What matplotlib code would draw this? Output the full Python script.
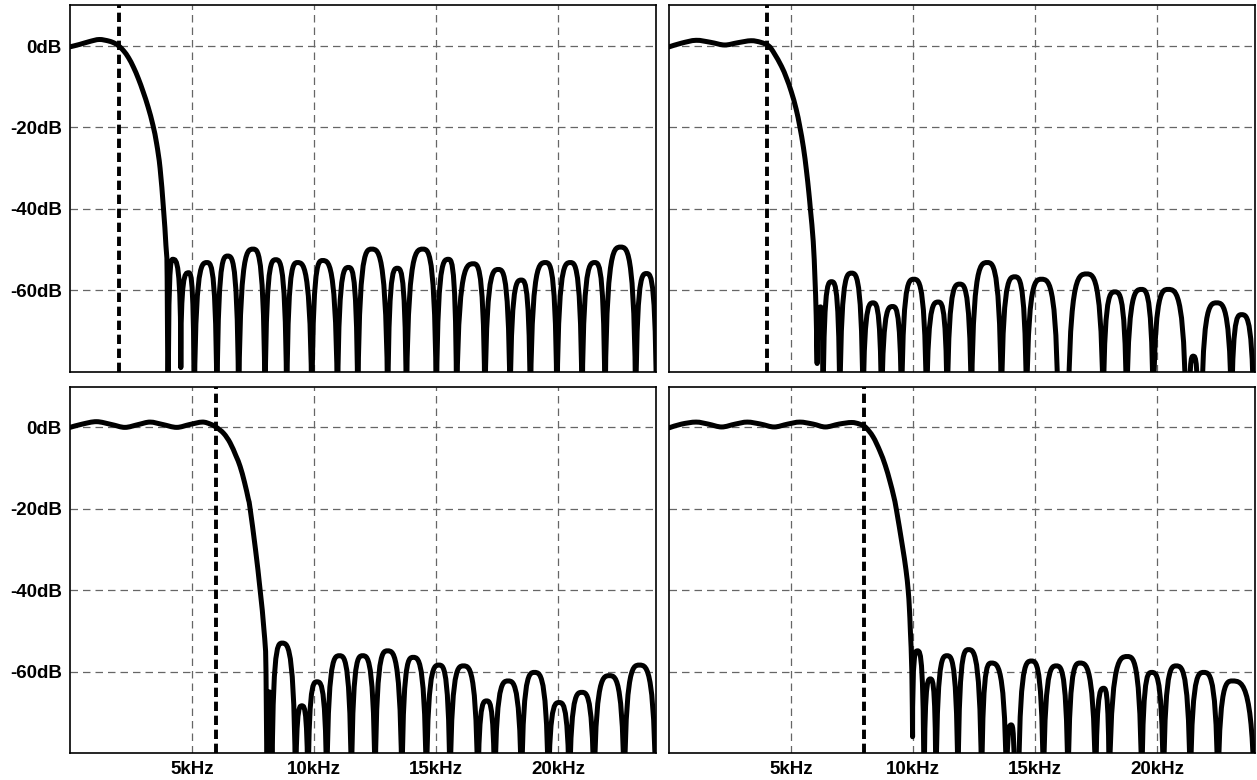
import matplotlib
matplotlib.use("Agg")
import matplotlib.pyplot as plt
from matplotlib.path import Path
from matplotlib.patches import PathPatch

plt.rcParams['font.family'] = ['Liberation Sans', 'DejaVu Sans']

# cutoff of each filter in kHz (dashed marker), panel order TL, TR, BL, BR
cutoffs = [2, 4, 6, 8]

# ---- top left: fc = 2 kHz ----
tl_pass_f = [0, 0.4, 0.8, 1.2, 1.6, 1.84, 2.0, 2.2, 2.4, 2.6, 2.8, 3.0, 3.2, 3.4,
             3.55, 3.69, 3.83, 3.93, 3.98]
tl_pass_db = [-0.2, 0.4, 1.1, 1.6, 1.2, 0.65, 0.0, -1.2, -2.9, -5.2, -8.0, -11.3, -15.0, -19.5,
              -24, -30, -40, -49, -57]
tl_null_f = [4.02, 4.54, 5.09, 6.02, 6.91, 7.99, 8.88, 9.91, 10.96, 11.79, 13.02, 13.78,
             15.01, 15.84, 17.0, 18.03, 18.86, 19.95, 20.98, 21.92, 23.18, 24.03]
tl_null_db = [-100, -79, -100, -100, -100, -100, -100, -100, -100, -100, -100, -100,
              -100, -100, -100, -100, -100, -100, -100, -100, -100, -100]
tl_peak_f = [4.21, 4.86, 5.61, 6.46, 7.50, 8.43, 9.32, 10.35, 11.41, 12.36, 13.41, 14.46,
             15.50, 16.53, 17.55, 18.49, 19.48, 20.5, 21.5, 22.56, 23.62]
tl_peak_db = [-52.4, -55.7, -53.2, -51.6, -49.9, -52.5, -53.2, -52.7, -54.4, -49.9, -54.6,
              -49.9, -52.4, -53.5, -54.9, -57.5, -53.2, -53.2, -53.2, -49.4, -55.9]

# ---- top right: fc = 4 kHz ----
tr_pass_f = [0, 0.5, 1.1, 1.7, 2.27, 2.8, 3.35, 3.75, 4.08, 4.3, 4.6, 4.8, 5.0, 5.2,
             5.35, 5.5, 5.62, 5.72, 5.79, 5.9, 5.97, 6.02]
tr_pass_db = [-0.2, 0.7, 1.4, 0.9, 0.25, 0.8, 1.3, 0.9, 0.0, -1.8, -5.0, -7.8, -11.2, -15.5,
              -19.8, -25, -30.5, -36, -40.5, -48, -57, -66]
tr_null_f = [6.06, 6.3, 6.99, 7.94, 8.7, 9.52, 10.54, 11.39, 12.38, 13.61, 14.64, 15.93,
             16.35, 17.78, 18.74, 19.83, 21.17, 21.3, 21.67, 21.81, 23.04, 23.95]
tr_null_db = [-78, -100, -100, -100, -100, -100, -100, -100, -100, -100, -100, -100,
              -100, -100, -100, -100, -100, -100, -100, -100, -100, -100]
tr_peak_f = [6.2, 6.65, 7.47, 8.35, 9.15, 10.02, 11.02, 11.9, 13.03, 14.16, 15.25, 16.14,
             17.1, 18.26, 19.35, 20.44, 21.23, 21.47, 21.74, 22.43, 23.45]
tr_peak_db = [-64.1, -57.9, -55.8, -63.1, -64.0, -57.3, -62.9, -58.5, -53.2, -56.7, -57.3,
              -90, -56.0, -60.4, -59.8, -59.8, -90, -76.2, -90, -63.1, -66.0]

# ---- bottom left: fc = 6 kHz ----
bl_pass_f = [0, 0.5, 1.09, 1.7, 2.25, 2.8, 3.28, 3.8, 4.37, 4.9, 5.42, 5.75, 6.0, 6.3,
             6.56, 6.8, 6.97, 7.15, 7.31, 7.38, 7.6, 7.79, 7.95, 8.03]
bl_pass_db = [0.0, 0.8, 1.4, 0.7, 0.0, 0.7, 1.3, 0.7, 0.0, 0.7, 1.3, 0.8, 0.0, -1.5,
              -3.8, -7.0, -9.6, -13.5, -17.7, -20, -30, -40, -50, -60]
bl_null_f = [8.08, 8.27, 9.24, 9.75, 10.52, 11.53, 12.5, 13.6, 14.6, 15.57, 16.71, 17.4,
             18.5, 19.6, 20.46, 21.47, 22.71, 24.0]
bl_null_db = [-100, -100, -100, -100, -100, -100, -100, -100, -100, -100, -100, -100,
              -100, -100, -100, -100, -100, -100]
bl_peak_f = [8.17, 8.69, 9.5, 10.12, 11.04, 11.99, 13.01, 14.06, 15.12, 16.12, 17.07, 17.95,
             19.03, 20.04, 20.97, 22.1, 23.33]
bl_peak_db = [-65.0, -53.0, -68.4, -62.5, -56.1, -56.1, -54.9, -56.5, -58.4, -58.6, -67.2,
              -62.3, -60.2, -67.6, -65.1, -61.0, -58.4]

# ---- bottom right: fc = 8 kHz ----
br_pass_f = [0, 0.5, 1.1, 1.6, 2.15, 2.7, 3.2, 3.75, 4.3, 4.85, 5.35, 5.9, 6.4, 6.95,
             7.47, 7.8, 8.05, 8.35, 8.63, 8.85, 9.04, 9.2, 9.31, 9.55, 9.7, 9.79, 9.84,
             9.88, 9.94]
br_pass_db = [-0.1, 0.8, 1.3, 0.8, 0.1, 0.8, 1.3, 0.8, 0.1, 0.8, 1.3, 0.8, 0.1, 0.8,
              1.2, 0.8, 0.0, -2.3, -5.8, -9.3, -13.2, -17.0, -20.3, -29, -35, -40, -44.5,
              -50, -60]
br_null_f = [9.97, 10.44, 10.93, 11.83, 12.8, 13.82, 14.15, 14.31, 15.33, 16.34, 17.47,
             18.03, 19.36, 20.25, 21.35, 22.48, 23.98]
br_null_db = [-76, -100, -100, -100, -100, -100, -100, -100, -100, -100, -100,
              -100, -100, -100, -100, -100, -100]
br_peak_f = [10.17, 10.7, 11.38, 12.26, 13.2, 14.01, 14.23, 14.84, 15.86, 16.83, 17.8,
             18.77, 19.77, 20.77, 21.9, 23.07]
br_peak_db = [-54.9, -61.8, -56.1, -54.6, -57.9, -73.1, -90, -57.4, -58.6, -57.9, -64.1,
              -56.3, -60.2, -58.6, -60.2, -62.3]

x_ticks = [5, 10, 15, 20]
x_labels = ['5kHz', '10kHz', '15kHz', '20kHz']
y_ticks = [0, -20, -40, -60]
y_labels = ['0dB', '-20dB', '-40dB', '-60dB']


def response_path(pass_f, pass_db, null_f, null_db, peak_f, peak_db):
    """Passband/transition as a smooth curve through the read points,
    then each sidelobe as two bezier halves (vertical out of the null,
    flat over the peak)."""
    pts = list(zip(pass_f, pass_db)) + [(null_f[0], null_db[0])]
    verts = [pts[0]]
    codes = [Path.MOVETO]
    n = len(pts)
    for i in range(n - 1):
        p0 = pts[max(i - 1, 0)]
        p1, p2 = pts[i], pts[i + 1]
        p3 = pts[min(i + 2, n - 1)]
        c1 = (p1[0] + (p2[0] - p0[0]) / 6, p1[1] + (p2[1] - p0[1]) / 6)
        c2 = (p2[0] - (p3[0] - p1[0]) / 6, p2[1] - (p3[1] - p1[1]) / 6)
        verts += [c1, c2, p2]
        codes += [Path.CURVE4] * 3
    for i in range(len(peak_f)):
        a, b = null_f[i], null_f[i + 1]
        m, p = peak_f[i], peak_db[i]
        verts += [(a, p), ((a + m) / 2, p), (m, p)]
        verts += [((m + b) / 2, p), (b, p), (b, null_db[i + 1])]
        codes += [Path.CURVE4] * 6
    return Path(verts, codes)


panels = [
    (tl_pass_f, tl_pass_db, tl_null_f, tl_null_db, tl_peak_f, tl_peak_db),
    (tr_pass_f, tr_pass_db, tr_null_f, tr_null_db, tr_peak_f, tr_peak_db),
    (bl_pass_f, bl_pass_db, bl_null_f, bl_null_db, bl_peak_f, bl_peak_db),
    (br_pass_f, br_pass_db, br_null_f, br_null_db, br_peak_f, br_peak_db),
]

fig, axes = plt.subplots(2, 2, figsize=(12.57, 7.8), dpi=100)
fig.subplots_adjust(left=0.0557, right=0.9984, bottom=0.0346, top=0.9932,
                    wspace=0.023, hspace=0.041)

for k, ax in enumerate(axes.flat):
    row, col = divmod(k, 2)
    ax.add_patch(PathPatch(response_path(*panels[k]), fill=False, ec='black', lw=3.6,
                           capstyle='round', joinstyle='round', zorder=3))
    ax.axvline(cutoffs[k], color='black', lw=2.8, linestyle=(0, (2.4, 1.2)), zorder=2)

    ax.set_xlim(0, 24)
    ax.set_ylim(-80, 10)
    ax.set_xticks(x_ticks)
    ax.set_yticks(y_ticks)
    ax.set_xticklabels(x_labels if row == 1 else [])
    ax.set_yticklabels(y_labels if col == 0 else [])
    ax.tick_params(length=0, labelsize=13.5, pad=6)
    for lab in ax.get_xticklabels() + ax.get_yticklabels():
        lab.set_fontweight('bold')
    ax.grid(True, color='#666666', lw=0.9, linestyle=(0, (6, 4)), zorder=1)
    for s in ax.spines.values():
        s.set_linewidth(1.2)
        s.set_color('black')

fig.savefig('out.png', dpi=100)
